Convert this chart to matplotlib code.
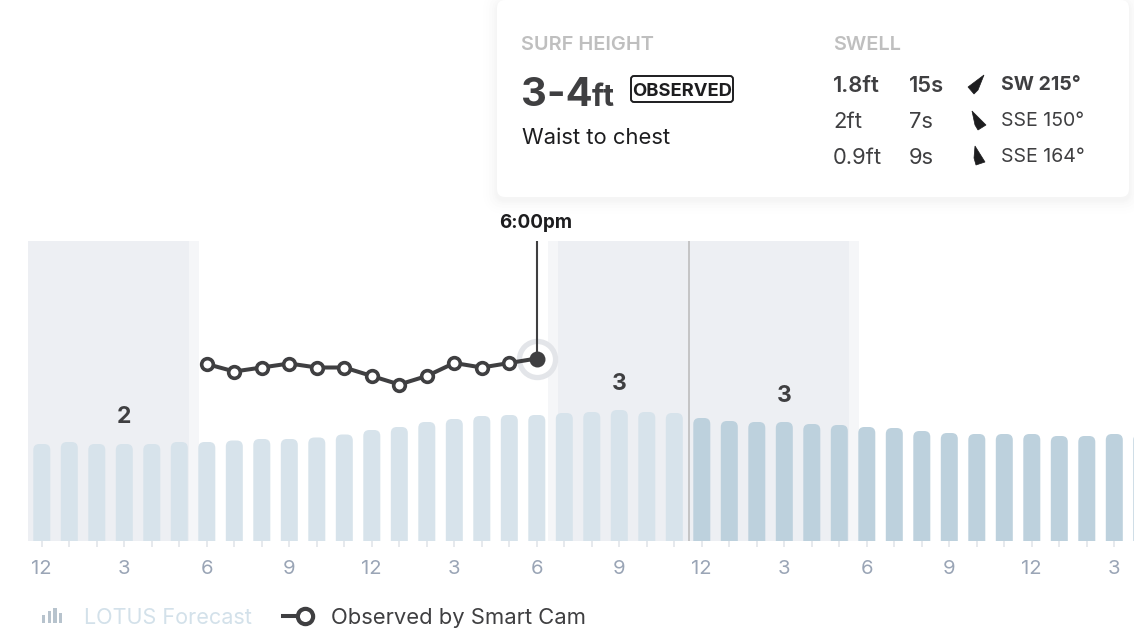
import matplotlib
matplotlib.use("Agg")
import matplotlib.pyplot as plt
from matplotlib.patches import FancyBboxPatch, Polygon, Rectangle

plt.rcParams['font.family'] = ['Inter', 'DejaVu Sans']

W, H = 1134, 638
BASE, TOP = 541, 241
X0, STEP = 41.8, 27.5

forecast = [97, 99, 97, 97, 97, 99, 99, 100.5, 102, 102, 103.5, 106.5, 111, 114,
            119, 122, 125, 126, 126, 128, 129, 131, 129, 128,
            123, 120, 119, 119, 117, 116, 114, 113, 110, 108, 107, 107, 107, 105, 105, 107, 107]
now_index = 24
hour_labels = ['12', '3', '6', '9', '12', '3', '6', '9', '12', '3', '6', '9', '12', '3']
observed_hours = list(range(6, 19))
observed = [177, 169.5, 173.5, 177.5, 173.5, 173.5, 165, 156.5, 165, 178, 173.5, 178, 182.5]
band_edges = [(-0.5, 5.35, 5.72), (18.4, 18.76, 29.36, 29.72)]
band_labels = [(3, 126, '2'), (21, 159, '3'), (27, 147, '3')]

LIGHT, DARK = '#d7e3eb', '#bdd1dd'
INK = '#3f3f41'
BAND, BAND2 = '#edeff3', '#f5f6f8'
TICKTXT = '#9aa5b6'
TICK = '#e1e5ea'

fig = plt.figure(figsize=(W / 100, H / 100), dpi=100, facecolor='white')
ax = fig.add_axes([0, (H - BASE) / H, 1, (BASE - TOP) / H])
ax.patch.set_alpha(0)
for s in ax.spines.values():
    s.set_visible(False)
ax.set_yticks([])

ax.axvspan(band_edges[0][0], band_edges[0][1], color=BAND, lw=0, zorder=0)
ax.axvspan(band_edges[0][1], band_edges[0][2], color=BAND2, lw=0, zorder=0)
ax.axvspan(band_edges[1][0], band_edges[1][1], color=BAND2, lw=0, zorder=0)
ax.axvspan(band_edges[1][1], band_edges[1][2], color=BAND, lw=0, zorder=0)
ax.axvspan(band_edges[1][2], band_edges[1][3], color=BAND2, lw=0, zorder=0)

bw = 17 / STEP
for i, v in enumerate(forecast):
    ax.add_patch(FancyBboxPatch((i - bw / 2, -10), bw, v + 10,
                                boxstyle=f'round,pad=0,rounding_size={6 / STEP}',
                                mutation_aspect=STEP,
                                fc=LIGHT if i < now_index else DARK, ec='none', zorder=2))

ax.axvline((689 - X0) / STEP, color='#b9b9b9', lw=1.1, zorder=3)

for xv, yv, s in band_labels:
    ax.text(xv + (-0.02 if s == '2' else 0), yv - 2, s, ha='center', va='center', fontsize=16.5,
            fontweight='bold', color=INK, zorder=6)

ax.set_xticks(range(len(forecast)))
ax.set_xticklabels([hour_labels[i // 3] if i % 3 == 0 and i // 3 < len(hour_labels) else ''
                    for i in range(len(forecast))])
ax.tick_params(axis='x', length=4.3, width=1.2, color=TICK, labelcolor=TICKTXT,
               labelsize=14.6, pad=9.5)

# observed line
ax.plot(observed_hours[-1:] * 2, [observed[-1], BASE - TOP], color=INK, lw=1.5, zorder=4)
ax.plot(observed_hours[-1:], observed[-1:], 'o', ms=26, mfc='white', mec='#e3e5e9', mew=3.8, zorder=3.5)
ax.plot(observed_hours, observed, '-', color=INK, lw=2.9, zorder=4)
ax.plot(observed_hours[:-1], observed[:-1], 'o', ms=8.4, mfc='white', mec=INK, mew=2.6, zorder=5)
ax.plot(observed_hours[-1:], observed[-1:], 'o', ms=11.5, mfc=INK, mec=INK, mew=0, zorder=5)

ax.set_xlim(-X0 / STEP, (W - X0) / STEP)
ax.set_ylim(0, BASE - TOP)

# overlay in pixel units for card and legend
ov = fig.add_axes([0, 0, 1, 1])
ov.set_xlim(0, W)
ov.set_ylim(H, 0)
ov.axis('off')
ov.patch.set_alpha(0)

ov.text(536, 223, '6:00pm', ha='center', va='center', fontsize=13.6, fontweight='bold', color='#1d1d1f')

# card shadow and card
for grow, a in [(14, .004), (11, .005), (8, .006), (5, .007), (3, .008), (1.5, .009)]:
    ov.add_patch(FancyBboxPatch((497 - grow, 0 - grow + 3), 632 + 2 * grow, 197 + 2 * grow,
                                boxstyle=f'round,pad=0,rounding_size={8 + grow}',
                                fc='black', ec='none', alpha=a, zorder=7))
ov.add_patch(FancyBboxPatch((497, 0), 632, 197, boxstyle='round,pad=0,rounding_size=8',
                            fc='white', ec='none', zorder=8))

def T(x, y, s, size, color=INK, weight='normal', **kw):
    kw.setdefault('ha', 'left')
    kw.setdefault('va', 'center')
    ov.text(x, y, s, fontsize=size * 0.72, color=color, fontweight=weight, zorder=9, **kw)

T(521, 44.5, 'SURF HEIGHT', 20, '#bfbfbf', 'semibold')
T(833, 44.5, 'SWELL', 20, '#bfbfbf', 'semibold')
T(521, 105.5, '3-4', 40, INK, 'bold', va='baseline')
T(592, 105.5, 'ft', 30, INK, 'bold', va='baseline')
ov.add_patch(FancyBboxPatch((631, 76), 102, 26, boxstyle='round,pad=0,rounding_size=3',
                            fc='white', ec='#1d1d1f', lw=1.4, zorder=9))
T(682, 91, 'OBSERVED', 18.4, '#1d1d1f', 'bold', ha='center')
T(522, 138, 'Waist to chest', 22, '#1d1d1f')

rows = [(85.5, '1.8ft', '15s', 'SW 215°', 'bold',
         [(984, 75), (968, 87), (974, 94), (978, 90)]),
        (121.5, '2ft', '7s', 'SSE 150°', 'normal',
         [(972, 111), (986, 125), (978, 130), (975, 125)]),
        (157.5, '0.9ft', '9s', 'SSE 164°', 'normal',
         [(975, 146), (985, 162), (976, 165), (974, 158)])]
for y, h, p, d, w, poly in rows:
    T(833, y, h, 22, INK, 'semibold' if w == 'bold' else 'normal')
    T(909, y, p, 22, INK, 'semibold' if w == 'bold' else 'normal')
    T(1001, y, d, 19.5, INK, w)
    ov.add_patch(Polygon(poly, closed=True, fc='#1d1d1f', ec='#1d1d1f', lw=0.5, zorder=9))

# legend
for x, top in [(43.5, 615), (49.5, 611), (55, 608), (60.5, 613)]:
    ov.add_patch(Rectangle((x - 1.8, top), 3.6, 623 - top, fc='#b7c3cd', ec='none'))
T(84, 618, 'LOTUS Forecast', 21.6, '#d3e1ea')
ov.plot([283, 305], [616, 616], color=INK, lw=2.9)
ov.plot([305], [616], 'o', ms=11, mfc='white', mec=INK, mew=3, clip_on=False)
T(331, 618, 'Observed by Smart Cam', 22, INK)

fig.savefig('out.png', dpi=100, facecolor='white')
